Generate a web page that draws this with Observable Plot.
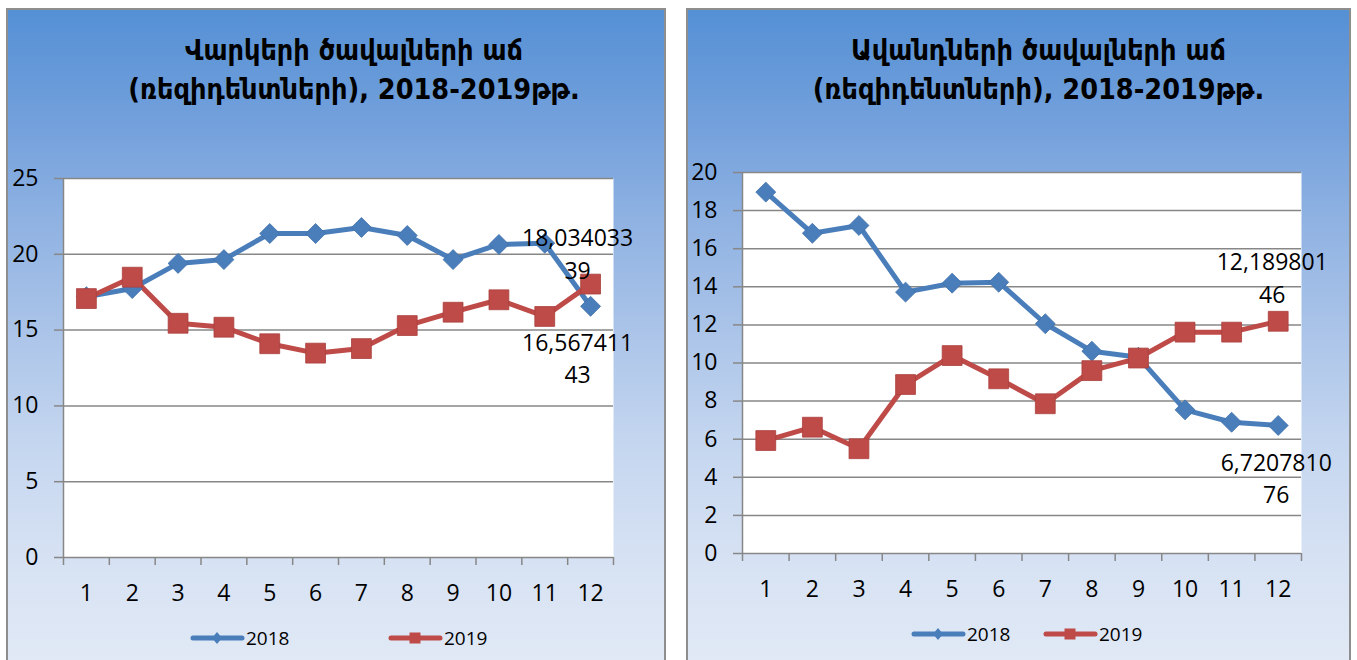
<!DOCTYPE html>
<html><head><meta charset="utf-8">
<script src="https://cdn.jsdelivr.net/npm/d3@7"></script>
<script src="https://cdn.jsdelivr.net/npm/@observablehq/plot@0.6"></script>
<style>
html,body{margin:0;padding:0}
body{width:1357px;height:660px;background:#fff;position:relative;overflow:hidden;font-family:"Open Sans",sans-serif}
.panel{position:absolute;top:8px;height:660px;box-sizing:border-box;border:2px solid #8e8e8e;
  background:linear-gradient(180deg,#5590d5 0%,#74a1dc 18%,#8fb2e2 32%,#a9c3e8 48%,#c3d5ef 65%,#d5e1f3 82%,#e1e9f5 100%)}
.title{position:absolute;top:31px;text-align:center;font-family:"DejaVu Sans Condensed","DejaVu Sans",sans-serif;font-stretch:condensed;font-weight:bold;font-size:28.5px;line-height:39px;color:#000;white-space:nowrap}
.plot{position:absolute;top:0}
.leg{position:absolute;font-size:19px;color:#000;display:flex;align-items:center;white-space:nowrap}
.leg svg{display:block}
</style></head>
<body>
<div class="panel" style="left:6px;width:660px"></div>
<div class="panel" style="left:686px;width:665px"></div>
<script>
// ---- data ----
const months = [1,2,3,4,5,6,7,8,9,10,11,12];
const seriesNames = ["2018","2019"];
const seriesColors = ["#4a7ebb","#be4b48"];
const loans2018 = [17.2,17.74,19.4,19.65,21.37,21.37,21.77,21.24,19.65,20.65,20.73,16.56741143];
const loans2019 = [17.08,18.49,15.45,15.19,14.1,13.48,13.78,15.3,16.18,17.0,15.9,18.03403339];
const deposits2018 = [18.97,16.81,17.22,13.72,14.19,14.24,12.06,10.62,10.3,7.54,6.89,6.720781076];
const deposits2019 = [5.93,6.63,5.5,8.87,10.39,9.17,7.86,9.6,10.26,11.62,11.62,12.18980146];
const loanTicks = [0,5,10,15,20,25];
const depositTicks = [0,2,4,6,8,10,12,14,16,18,20];
const titleLoans = ["Վարկերի ծավալների աճ","(ռեզիդենտների), 2018-2019թթ."];
const titleDeposits = ["Ավանդների ծավալների աճ","(ռեզիդենտների), 2018-2019թթ."];

const boundaries = d3.range(0.5, 13, 1);
const fmtLabel = v => { const s = String(v).replace(".", ","); return s.slice(0,9) + "\n" + s.slice(9); };

function chart(o) {
  const rows = months.flatMap((m,i)=>[{m, v:o.a[i], s:seriesNames[0]},{m, v:o.b[i], s:seriesNames[1]}]);
  const last = [
    {m:12, v:o.a[11], s:seriesNames[0], t:fmtLabel(o.a[11])},
    {m:12, v:o.b[11], s:seriesNames[1], t:fmtLabel(o.b[11])}
  ];
  const grid = "#878787";
  return Plot.plot({
    width:o.width, height:620,
    marginLeft:o.ml, marginRight:o.mr, marginTop:o.mt, marginBottom:o.mb,
    style:{background:"transparent", fontFamily:"Open Sans", overflow:"visible"},
    x:{type:"linear", domain:[0.5,12.5]},
    y:{domain:[0, o.ticks[o.ticks.length-1]]},
    color:{domain:seriesNames, range:seriesColors},
    marks:[
      Plot.frame({fill:"white", stroke:null}),
      Plot.ruleY(o.ticks, {stroke:grid, strokeWidth:1.5}),
      Plot.ruleX([0.5], {stroke:grid, strokeWidth:1.5}),
      Plot.axisY(o.ticks, {tickSize:9, tickPadding:16, fontSize:23, stroke:grid, strokeWidth:1.5, fill:"black", label:null}),
      Plot.axisX(boundaries, {tickSize:8, tickFormat:()=>"", stroke:grid, strokeWidth:1.5, label:null}),
      Plot.axisX(months, {tickSize:0, tickPadding:27, fontSize:23, fill:"black", label:null}),
      Plot.line(rows, {x:"m", y:"v", z:"s", stroke:"s", strokeWidth:5}),
      Plot.dot(rows.filter(d=>d.s===seriesNames[0]), {x:"m", y:"v", symbol:"diamond2", r:9, fill:"s", stroke:"#3f70aa", strokeWidth:0.8}),
      Plot.dot(rows.filter(d=>d.s===seriesNames[1]), {x:"m", y:"v", symbol:"square", r:11.2, fill:"s", stroke:"#a9403d", strokeWidth:0.8}),
      Plot.text(last.filter(d=>d.s===o.upper), {x:"m", y:"v", text:"t", fontSize:23, lineHeight:1.43, lineAnchor:"middle", dx:o.udx, dy:o.udy, fill:"black"}),
      Plot.text(last.filter(d=>d.s!==o.upper), {x:"m", y:"v", text:"t", fontSize:23, lineHeight:1.39, lineAnchor:"middle", dx:o.ldx, dy:o.ldy, fill:"black"})
    ]
  });
}

function place(node, left) {
  node.classList.add("plot");
  node.style.left = left + "px";
  document.body.appendChild(node);
}

place(chart({a:loans2018, b:loans2019, ticks:loanTicks, width:665, ml:63, mr:52, mt:178, mb:63,
  upper:"2019", udx:-13, udy:-32, ldx:-13, ldy:50}), 0);
place(chart({a:deposits2018, b:deposits2019, ticks:depositTicks, width:677, ml:62, mr:56, mt:172, mb:67,
  upper:"2019", udx:-6, udy:-45, ldx:-2, ldy:51}), 680);

function title(lines, left, width) {
  const d = document.createElement("div");
  d.className = "title";
  d.style.left = left + "px"; d.style.width = width + "px";
  d.innerHTML = lines.map(l=>`<div>${l}</div>`).join("");
  document.body.appendChild(d);
}
title(titleLoans, 24, 660);
title(titleDeposits, 706, 665);

function legendItem(x, y, i) {
  const d = document.createElement("div");
  d.className = "leg";
  d.style.left = x + "px"; d.style.top = (y - 13) + "px";
  const c = seriesColors[i];
  const marker = i === 0
    ? `<path d="M27,7 L32,13 L27,19 L22,13Z" fill="${c}"/>`
    : `<rect x="21.5" y="7.5" width="11" height="11" fill="${c}"/>`;
  d.innerHTML = `<svg width="55" height="26"><line x1="3" x2="52" y1="13" y2="13" stroke="${c}" stroke-width="5" stroke-linecap="round"/>${marker}</svg><span style="margin-left:1px">${seriesNames[i]}</span>`;
  document.body.appendChild(d);
}
legendItem(190, 638, 0); legendItem(388, 638, 1);
legendItem(911, 634, 0); legendItem(1043, 634, 1);
</script>
</body></html>
